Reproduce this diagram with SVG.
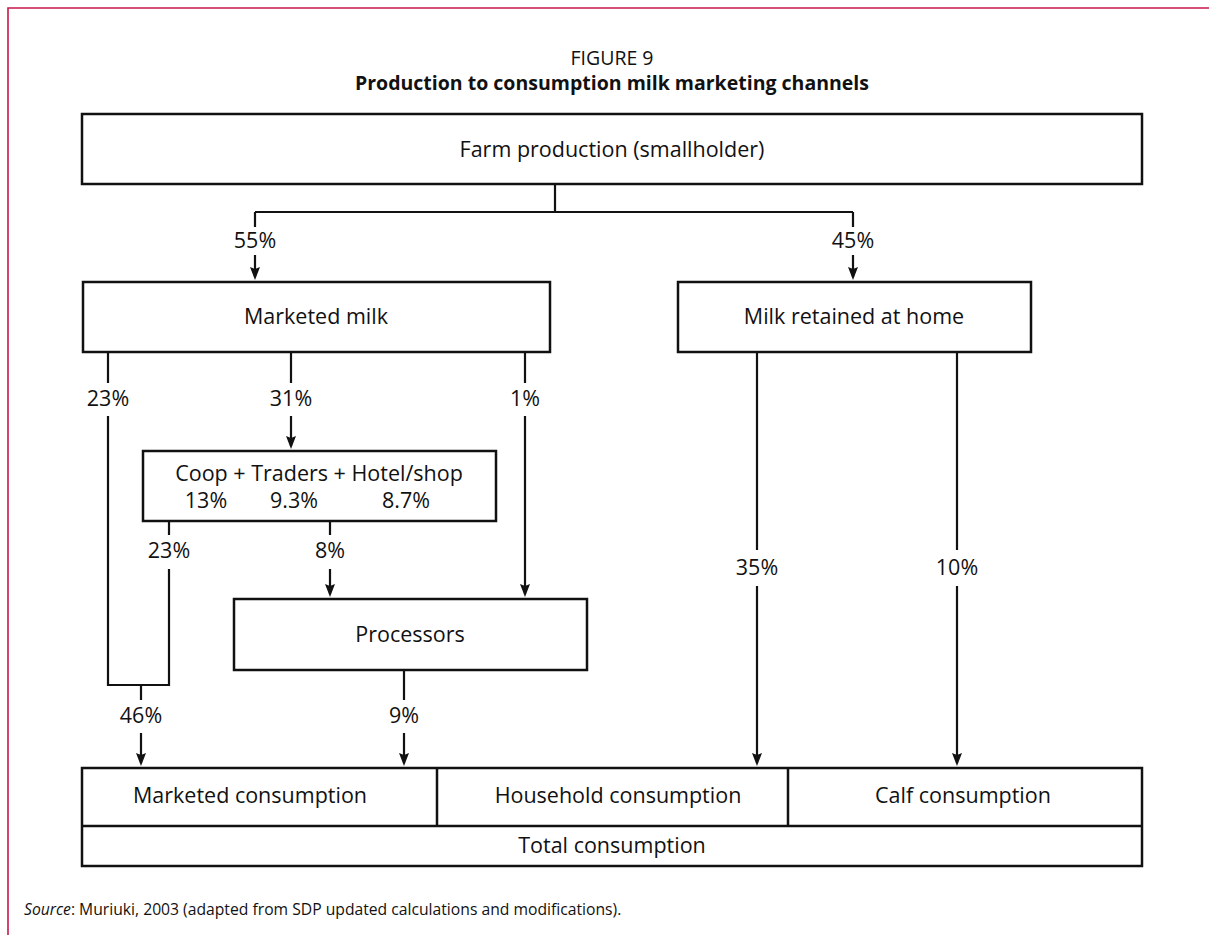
<svg xmlns="http://www.w3.org/2000/svg" width="1209" height="935" viewBox="0 0 1209 935">
<defs>
<style>
.t{font-family:"Open Sans","Noto Sans","Liberation Sans",sans-serif;font-size:21.5px;fill:#111;text-anchor:middle}
.ttl{font-family:"Open Sans","Noto Sans","Liberation Sans",sans-serif;font-size:19.5px;fill:#111;text-anchor:middle}
.src{font-family:"Open Sans","Noto Sans","Liberation Sans",sans-serif;font-size:15.7px;fill:#111}
.box{fill:#fff;stroke:#111;stroke-width:2.5}
.ln{fill:none;stroke:#111;stroke-width:2.2}
</style>
<marker id="ah" markerUnits="userSpaceOnUse" markerWidth="13" markerHeight="10" viewBox="0 -5 13 10" refX="10" refY="0" orient="auto">
<path d="M0,-5 L13,0 L0,5 L2,0 z" fill="#111"/>
</marker>
</defs>
<rect width="1209" height="935" fill="#fff"/>
<path d="M8,935 V8 H1209" fill="none" stroke="#c8174a" stroke-width="1.6"/>
<g id="title">
<text class="ttl" x="612" y="65">FIGURE 9</text>
<text class="ttl" x="612" y="90" font-weight="bold">Production to consumption milk marketing channels</text>
</g>
<g id="farm">
<rect class="box" x="82" y="114" width="1060" height="70"/>
<text class="t" x="612" y="157">Farm production (smallholder)</text>
</g>
<g id="marketed-milk">
<rect class="box" x="83" y="282" width="467" height="70"/>
<text class="t" x="316" y="324">Marketed milk</text>
</g>
<g id="milk-home">
<rect class="box" x="678" y="282" width="353" height="70"/>
<text class="t" x="854" y="324">Milk retained at home</text>
</g>
<g id="coop">
<rect class="box" x="143" y="451" width="353" height="70"/>
<text class="t" x="319" y="481">Coop + Traders + Hotel/shop</text>
<text class="t" y="508"><tspan x="206">13%</tspan><tspan x="294">9.3%</tspan><tspan x="406">8.7%</tspan></text>
</g>
<g id="processors">
<rect class="box" x="234" y="599" width="353" height="71"/>
<text class="t" x="410" y="642">Processors</text>
</g>
<g id="consumption">
<rect class="box" x="82" y="768" width="1060" height="98"/>
<path class="ln" d="M82,826 H1142 M437,768 V826 M788,768 V826" style="stroke-width:2.5"/>
<text class="t" x="250" y="803">Marketed consumption</text>
<text class="t" x="618" y="803">Household consumption</text>
<text class="t" x="963" y="803">Calf consumption</text>
<text class="t" x="612" y="853">Total consumption</text>
</g>
<g id="connectors">
<path class="ln" d="M555,184 V212 M255,212 H853 M255,212 V227 M853,212 V227"/>
<path class="ln" d="M255,255 V277" marker-end="url(#ah)"/>
<path class="ln" d="M853,255 V277" marker-end="url(#ah)"/>
<path class="ln" d="M108,352 V383 M108,416 V685 H169 V569 M169,535 V521 M141,685 V700 M291,352 V383 M525,352 V383 M330,521 V535 M404,670 V700 M757,352 V550 M957,352 V550"/>
<path class="ln" d="M141,733 V763" marker-end="url(#ah)"/>
<path class="ln" d="M291,416 V446" marker-end="url(#ah)"/>
<path class="ln" d="M525,416 V594" marker-end="url(#ah)"/>
<path class="ln" d="M330,569 V594" marker-end="url(#ah)"/>
<path class="ln" d="M404,733 V763" marker-end="url(#ah)"/>
<path class="ln" d="M757,586 V763" marker-end="url(#ah)"/>
<path class="ln" d="M957,586 V763" marker-end="url(#ah)"/>
<g id="labels">
<text class="t" x="255" y="248">55%</text>
<text class="t" x="853" y="248">45%</text>
<text class="t" x="108" y="406">23%</text>
<text class="t" x="291" y="406">31%</text>
<text class="t" x="525" y="406">1%</text>
<text class="t" x="169" y="558">23%</text>
<text class="t" x="330" y="558">8%</text>
<text class="t" x="757" y="575">35%</text>
<text class="t" x="957" y="575">10%</text>
<text class="t" x="141" y="723">46%</text>
<text class="t" x="404" y="723">9%</text>
</g>
</g>
<text class="src" x="24" y="915"><tspan font-style="italic">Source</tspan>: Muriuki, 2003 (adapted from SDP updated calculations and modifications).</text>
</svg>
